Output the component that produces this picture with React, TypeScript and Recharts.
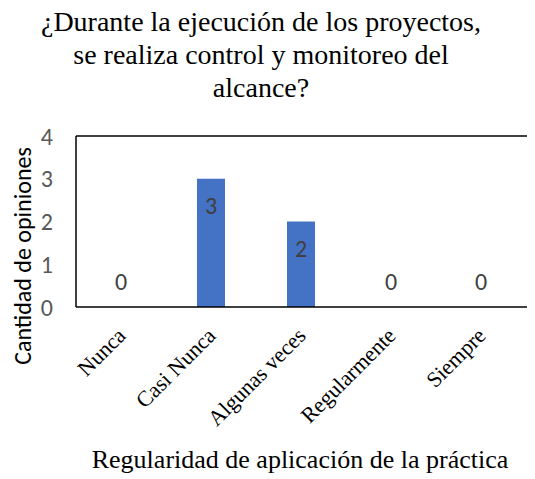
import React from 'react';
import { ComposedChart, Bar, Line, XAxis, YAxis, ReferenceLine } from 'recharts';

const categories = ['Nunca', 'Casi Nunca', 'Algunas veces', 'Regularmente', 'Siempre'];
const opinions = [0, 3, 2, 0, 0];
const yTicks = [0, 1, 2, 3, 4];

const data = categories.map((name, i) => ({ name, value: opinions[i] }));

const titleLines = ['¿Durante la ejecución de los proyectos,', 'se realiza control y monitoreo del', 'alcance?'];

const serif = "'Liberation Serif', 'Times New Roman'";
const sans = "'Carlito', 'Lato'";

const XTick = (props: any) => {
  const { x, y, payload } = props;
  const ax = x + 6;
  const ay = y + 30;
  return (
    <text
      x={ax}
      y={ay}
      transform={`rotate(-45, ${ax}, ${ay})`}
      textAnchor="end"
      fontFamily={serif}
      fontSize={22}
      fill="#000"
    >
      {payload.value}
    </text>
  );
};

// labels sit inside the top of a bar, or above the axis when the value is 0
const ValueLabel = (props: any) => {
  const { x, y, value } = props;
  const cy = Number(value) > 0 ? y + 27 : y - 26;
  return (
    <text x={x} y={cy} textAnchor="middle" dominantBaseline="central" fontFamily={sans} fontSize={24} fill="#404040">
      {value}
    </text>
  );
};

const App: React.FC = () => {
  return (
    <div style={{ position: 'relative', width: 527, height: 471, background: '#fff' }}>
      {titleLines.map((t, i) => (
        <div
          key={t}
          style={{
            position: 'absolute',
            left: 0,
            top: i * 33,
            width: 506,
            textAlign: 'center',
            fontFamily: serif,
            fontSize: 28,
            lineHeight: '28px',
            color: '#000',
            whiteSpace: 'nowrap',
          }}
        >
          {t}
        </div>
      ))}
      <ComposedChart width={527} height={471} data={data} margin={{ top: 128, right: 0, bottom: 0, left: 0 }}>
        <XAxis
          dataKey="name"
          height={172}
          interval={0}
          tickLine={false}
          tickSize={0}
          tickMargin={0}
          axisLine={{ stroke: '#000', strokeWidth: 1.5 }}
          tick={<XTick />}
          padding={{ left: 0, right: 9 }}
          label={() => (
            <text x={292} y={460} textAnchor="middle" fontFamily={serif} fontSize={26} fill="#000">
              Regularidad de aplicación de la práctica
            </text>
          )}
        />
        <YAxis
          width={68}
          domain={[0, 4]}
          ticks={yTicks}
          tickLine={false}
          tickSize={0}
          tickMargin={23}
          axisLine={{ stroke: '#000', strokeWidth: 1.5 }}
          tick={{ fontFamily: sans, fontSize: 24, fill: '#595959' }}
          label={() => (
            <text
              x={23}
              y={248}
              transform="rotate(-90, 23, 248)"
              textAnchor="middle"
              fontFamily={sans}
              fontSize={24}
              fill="#000"
            >
              Cantidad de opiniones
            </text>
          )}
        />
        <ReferenceLine y={4} stroke="#000" strokeWidth={1.5} />
        <Bar dataKey="value" fill="#4472C4" barSize={28} isAnimationActive={false} />
        <Line
          dataKey="value"
          stroke="none"
          dot={false}
          activeDot={false}
          legendType="none"
          isAnimationActive={false}
          label={<ValueLabel />}
        />
      </ComposedChart>
    </div>
  );
};

export default App;
